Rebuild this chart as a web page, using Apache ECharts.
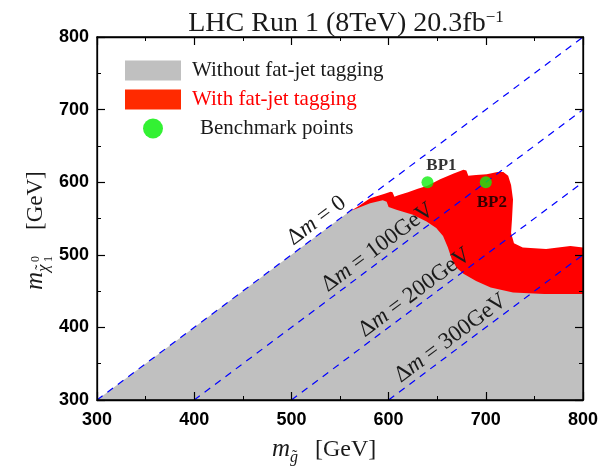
<!DOCTYPE html>
<html>
<head>
<meta charset="utf-8">
<script src="https://cdn.jsdelivr.net/npm/echarts@6/dist/echarts.min.js"></script>
<style>
html, body { margin: 0; padding: 0; background: #fff; }
#chart { width: 607px; height: 468px; }
</style>
</head>
<body>
<div id="chart"></div>
<script>
// axis range
var axisMin = 300;
var axisMax = 800;
var axisStep = 100;

// grey region (without fat-jet tagging): upper edge, closed down to y=300
var greyX = [300, 560, 581, 594, 598, 600, 608, 625, 639, 649, 656, 661, 665, 670, 677, 690, 705, 728, 760, 800, 800];
var greyY = [300, 560, 571, 575, 573, 566, 562, 555, 546, 537, 526, 510, 494, 482, 474, 464, 455, 448, 446, 446, 300];

// red region (with fat-jet tagging): upper edge, lower part sits under the grey
var redX = [557, 570, 581, 596, 602, 604, 606, 610, 620, 630, 640, 653, 667, 677, 680, 682, 690, 701, 712, 718, 723, 726, 728, 727, 726, 729, 738, 762, 787, 800, 800, 557];
var redY = [557, 568, 578, 584, 587, 586, 580, 582, 586, 591, 595, 604, 612, 617, 616, 609, 610, 611, 614, 614, 609, 596, 576, 550, 530, 516, 510, 508, 512, 510, 300, 300];

// benchmark points
var bpNames = ['BP1', 'BP2'];
var bpX = [640, 700];
var bpY = [600, 600];

// mass splitting lines  m_chi = m_gluino - dm
var dmValues = [0, 100, 200, 300];
var dmLabelX = [533, 596, 634, 671];

var serif = 'Liberation Serif';
var sans = 'Liberation Sans';

var chart = echarts.init(document.getElementById('chart'));

function polygonRender(xs, ys, color) {
    return function (params, api) {
        if (params.dataIndex !== 0) return null;
        var pts = xs.map(function (x, i) { return api.coord([x, ys[i]]); });
        return { type: 'polygon', shape: { points: pts }, style: { fill: color } };
    };
}

function pairs(xs, ys) {
    return xs.map(function (x, i) { return [x, ys[i]]; });
}

var tickLabel = { fontFamily: sans, fontWeight: 'bold', fontSize: 18, color: '#000' };

function makeAxis(pos, showLabel, isX) {
    return {
        type: 'value',
        position: pos,
        z: 10,
        min: axisMin,
        max: axisMax,
        interval: axisStep,
        axisLine: { show: true, onZero: false, lineStyle: { color: '#000', width: 1.3 } },
        axisTick: { show: true, inside: true, length: 8, lineStyle: { color: '#000', width: 1.2 } },
        minorTick: { show: true, splitNumber: 2, length: 4, lineStyle: { color: '#000', width: 1 } },
        splitLine: { show: false },
        axisLabel: showLabel ? Object.assign({ margin: isX ? 11 : 8 }, tickLabel) : { show: false }
    };
}

var series = [
    {
        name: 'With fat-jet tagging',
        type: 'custom',
        z: 1,
        silent: true,
        itemStyle: { color: '#ff0000' },
        data: pairs(redX, redY),
        renderItem: polygonRender(redX, redY, '#ff0000')
    },
    {
        name: 'Without fat-jet tagging',
        type: 'custom',
        z: 2,
        silent: true,
        itemStyle: { color: '#c0c0c0' },
        data: pairs(greyX, greyY),
        renderItem: polygonRender(greyX, greyY, '#c0c0c0')
    }
];

dmValues.forEach(function (dm) {
    series.push({
        type: 'line',
        z: 3,
        silent: true,
        symbol: 'none',
        lineStyle: { color: '#0000ff', width: 1.2, type: [7, 6] },
        data: [[axisMin + dm, axisMin], [axisMax, axisMax - dm]]
    });
});

var bpLabelStyle = [
    { position: 'top', offset: [14, 3] },
    { position: 'bottom', offset: [6, 1] }
];

series.push({
    name: 'Benchmark points',
    type: 'scatter',
    z: 4,
    symbolSize: 12,
    itemStyle: { color: '#11ee11' },
    data: bpX.map(function (x, i) {
        return {
            name: bpNames[i],
            value: [x, bpY[i]],
            label: Object.assign({
                show: true,
                formatter: '{b}',
                fontFamily: serif,
                fontWeight: 'bold',
                fontSize: 17,
                color: '#000'
            }, bpLabelStyle[i])
        };
    })
});

var option = {
    animation: false,
    backgroundColor: '#fff',
    grid: { left: 97, right: 24, top: 37, bottom: 68 },
    xAxis: [makeAxis('bottom', true, true), makeAxis('top', false, true)],
    yAxis: [makeAxis('left', true, false), makeAxis('right', false, false)],
    legend: {
        orient: 'vertical',
        left: 125,
        top: 60,
        padding: 0,
        itemWidth: 56,
        itemHeight: 20,
        itemGap: 8,
        selectedMode: false,
        textStyle: { fontFamily: serif, fontSize: 21, color: '#1a1a1a', padding: [0, 0, 0, 6] },
        data: [
            { name: 'Without fat-jet tagging', icon: 'rect' },
            { name: 'With fat-jet tagging', icon: 'rect', itemStyle: { color: '#ff2a00' }, textStyle: { color: '#ff0000' } },
            { name: 'Benchmark points', icon: 'circle', itemStyle: { color: '#00ee00' }, textStyle: { padding: [0, 0, 0, 14] } }
        ]
    },
    series: series
};
// first pass only to get the pixel mapping of the axes
chart.setOption(option);

// text that sits on a baseline (canvas middle is ~0.34em above it)
function txt(str, x, base, size, italic) {
    return {
        type: 'text',
        x: x,
        y: base - 0.34 * size,
        style: {
            text: str,
            fontFamily: serif,
            fontSize: size,
            fontStyle: italic ? 'italic' : 'normal',
            fill: '#1a1a1a',
            verticalAlign: 'middle',
            align: 'left'
        }
    };
}

var toPx = function (p) { return chart.convertToPixel({ xAxisIndex: 0, yAxisIndex: 0 }, p); };
var p0 = toPx([axisMin, axisMin]);
var p1 = toPx([axisMax, axisMax]);
var ang = Math.atan2(p0[1] - p1[1], p1[0] - p0[0]);

var graphics = [];

// plot frame on top of the filled regions
graphics.push({
    type: 'rect',
    z: 20,
    silent: true,
    shape: { x: p0[0], y: p1[1], width: p1[0] - p0[0], height: p0[1] - p1[1] },
    style: { fill: null, stroke: '#000', lineWidth: 1.3 }
});

// title
graphics.push({
    type: 'text',
    x: 346,
    y: 24,
    style: {
        text: '{t|LHC Run 1 (8TeV) 20.3fb}{s|\u22121}',
        align: 'center',
        verticalAlign: 'middle',
        fill: '#1a1a1a',
        rich: {
            t: { fontFamily: serif, fontSize: 28, lineHeight: 30, verticalAlign: 'middle' },
            s: { fontFamily: serif, fontSize: 17, lineHeight: 26, verticalAlign: 'top' }
        }
    }
});

// delta m labels along the dashed lines
dmValues.forEach(function (dm, i) {
    var p = toPx([dmLabelX[i], dmLabelX[i] - dm]);
    graphics.push({
        type: 'text',
        x: p[0],
        y: p[1] - 1,
        rotation: ang,
        z: 10,
        style: {
            text: '{d|\u0394}{m|m}{d| = ' + (dm === 0 ? '0' : dm + 'GeV') + '}',
            align: 'center',
            verticalAlign: 'bottom',
            fill: '#1a1a1a',
            rich: {
                d: { fontFamily: serif, fontSize: 23 },
                m: { fontFamily: serif, fontSize: 23, fontStyle: 'italic' }
            }
        }
    });
});

// x axis name  m_g~ [GeV]
graphics.push({
    type: 'group',
    x: 272,
    y: 458,
    children: [
        txt('m', 0, 0, 25, true),
        txt('g', 18, 5, 16, true),
        txt('\u02dc', 20, 4, 16, false),
        txt('[GeV]', 43, 0, 24, false)
    ]
});

// y axis name  m_chi~^0_1 [GeV]
graphics.push({
    type: 'group',
    x: 44,
    y: 290,
    rotation: Math.PI / 2,
    children: [
        txt('m', 0, 0, 25, true),
        txt('\u03c7', 18, 5, 17, true),
        txt('\u02dc', 20, 3, 16, false),
        txt('0', 28, -4, 12, false),
        txt('1', 28, 9, 12, false),
        txt('[GeV]', 60, 0, 23, false)
    ]
});

// rebuild everything in one go, text included
option.graphic = graphics;
chart.setOption(option, true);
</script>
</body>
</html>
